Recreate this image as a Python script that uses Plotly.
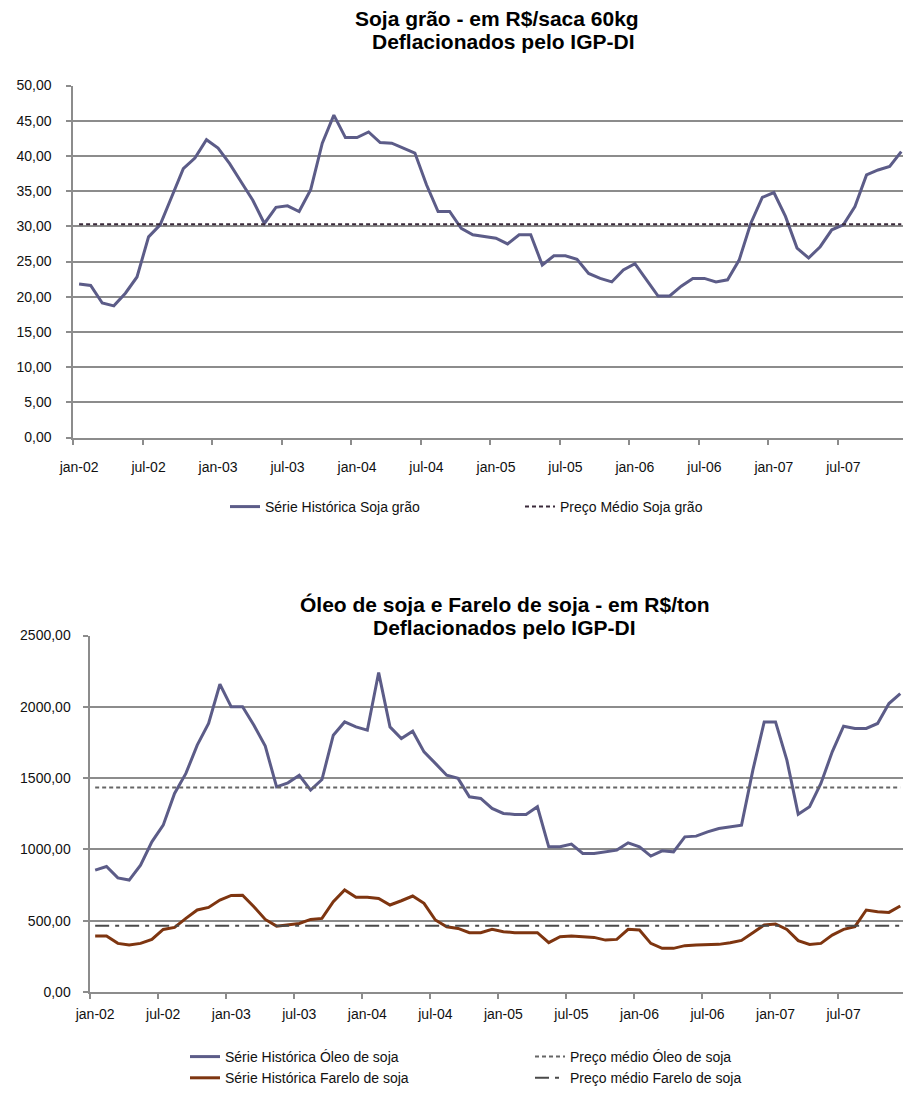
import plotly.graph_objects as go

# Meses da série: jan-02 a dez-07
nomes_mes = ["jan", "fev", "mar", "abr", "mai", "jun",
             "jul", "ago", "set", "out", "nov", "dez"]
meses = [f"{m}-{a:02d}" for a in range(2, 8) for m in nomes_mes]

rotulos_x = ["jan-02", "jul-02", "jan-03", "jul-03", "jan-04", "jul-04",
             "jan-05", "jul-05", "jan-06", "jul-06", "jan-07", "jul-07"]

# Soja grão - R$/saca 60kg (deflacionado IGP-DI)
soja_grao = [21.8, 21.6, 19.1, 18.7, 20.5, 22.8, 28.5, 30.2, 34.2, 38.2, 39.7, 42.3,
             41.1, 38.9, 36.3, 33.7, 30.4, 32.7, 32.9, 32.1, 35.2, 41.8, 45.8, 42.6,
             42.6, 43.4, 41.9, 41.8, 41.1, 40.4, 35.9, 32.1, 32.1, 29.7, 28.8, 28.5,
             28.3, 27.5, 28.8, 28.8, 24.5, 25.8, 25.8, 25.3, 23.3, 22.6, 22.1, 23.8,
             24.7, 22.4, 20.1, 20.1, 21.5, 22.6, 22.6, 22.1, 22.4, 25.2, 30.4, 34.1,
             34.8, 31.4, 26.9, 25.5, 27.1, 29.5, 30.2, 32.8, 37.3, 38.0, 38.5, 40.6]
preco_medio_soja = 30.3

# Óleo e farelo de soja - R$/ton (deflacionado IGP-DI)
oleo_soja = [855, 880, 800, 785, 890, 1053, 1170, 1392, 1533, 1731, 1883, 2158,
             2000, 2000, 1871, 1724, 1439, 1467, 1520, 1416, 1490, 1801, 1894, 1859,
             1836, 2240, 1859, 1778, 1829, 1684, 1603, 1520, 1498, 1369, 1357, 1287,
             1252, 1245, 1245, 1299, 1018, 1018, 1037, 972, 972, 983, 995, 1046,
             1018, 953, 990, 983, 1088, 1093, 1123, 1147, 1158, 1170, 1556, 1894,
             1894, 1626, 1247, 1299, 1462, 1684, 1864, 1848, 1848, 1883, 2023, 2093]
farelo_soja = [392, 392, 341, 329, 341, 369, 439, 453, 516, 575, 593, 645,
               677, 679, 598, 509, 462, 474, 481, 509, 516, 633, 715, 664,
               664, 656, 610, 640, 673, 622, 505, 458, 446, 416, 416, 439,
               423, 416, 416, 416, 346, 388, 392, 388, 383, 364, 369, 440,
               435, 341, 306, 306, 325, 329, 329, 334, 346, 362, 416, 470,
               477, 439, 360, 334, 341, 399, 439, 458, 575, 563, 558, 603]
preco_medio_oleo = 1434
preco_medio_farelo = 465

x = list(range(len(meses)))
pos_rotulos = [meses.index(r) for r in rotulos_x]

W, H = 903, 1093
FONTE = "Liberation Sans, Arial, sans-serif"
COR_SERIE = "#5c5c88"
COR_FARELO = "#7e3510"
COR_GRADE = "#8c8c8c"


def py(px):
    return 1 - px / H


fig = go.Figure()

# --- gráfico superior ---
fig.add_trace(go.Scatter(x=x, y=soja_grao, mode="lines", name="Série Histórica Soja grão",
                         line=dict(color=COR_SERIE, width=3), text=meses,
                         xaxis="x", yaxis="y", legend="legend"))
fig.add_trace(go.Scatter(x=x, y=[preco_medio_soja] * len(x), mode="lines",
                         name="Preço Médio Soja grão",
                         line=dict(color="#3a2a3a", width=2, dash="4px,3px"),
                         xaxis="x", yaxis="y", legend="legend"))

# --- gráfico inferior ---
fig.add_trace(go.Scatter(x=x, y=oleo_soja, mode="lines", name="Série Histórica Óleo de soja",
                         line=dict(color=COR_SERIE, width=3), text=meses,
                         xaxis="x2", yaxis="y2", legend="legend2"))
fig.add_trace(go.Scatter(x=x, y=[preco_medio_oleo] * len(x), mode="lines",
                         name="Preço médio Óleo de soja",
                         line=dict(color="#666666", width=2, dash="4px,3px"),
                         xaxis="x2", yaxis="y2", legend="legend2"))
fig.add_trace(go.Scatter(x=x, y=farelo_soja, mode="lines", name="Série Histórica Farelo de soja",
                         line=dict(color=COR_FARELO, width=3), text=meses,
                         xaxis="x2", yaxis="y2", legend="legend2"))
fig.add_trace(go.Scatter(x=x, y=[preco_medio_farelo] * len(x), mode="lines",
                         name="Preço médio Farelo de soja",
                         line=dict(color="#4a4a4a", width=2, dash="14px,6px,4px,6px"),
                         xaxis="x2", yaxis="y2", legend="legend2"))

eixo_x = dict(
    tickmode="array", tickvals=pos_rotulos, ticktext=rotulos_x,
    ticks="", showgrid=False, zeroline=False,
    showline=True, linecolor=COR_GRADE, linewidth=2,
    tickfont=dict(family=FONTE, size=14, color="#111111"),
    minor=dict(ticks="outside", tick0=-0.5, dtick=6, ticklen=5,
               tickcolor=COR_GRADE, tickwidth=1.5, showgrid=False),
)
eixo_y = dict(
    showgrid=True, gridcolor=COR_GRADE, gridwidth=2, zeroline=False,
    showline=True, linecolor=COR_GRADE, linewidth=2,
    ticks="outside", ticklen=5, tickcolor=COR_GRADE, tickwidth=1.5,
    tickformat=".2f", tickfont=dict(family=FONTE, size=14, color="#111111"),
)

fig.update_layout(
    width=W, height=H,
    margin=dict(l=0, r=0, t=0, b=0, autoexpand=False),
    paper_bgcolor="white", plot_bgcolor="white",
    separators=",.",
    showlegend=True,
    xaxis=dict(eixo_x, domain=[73.3 / W, 1.0], range=[-0.5, 71.15],
               anchor="y", ticklabelstandoff=16),
    yaxis=dict(eixo_y, domain=[py(437.5), py(85.5)], range=[0, 50], dtick=5,
               anchor="x", ticklabelstandoff=12),
    xaxis2=dict(eixo_x, domain=[89.5 / W, 1.0], range=[-0.5, 71.24],
                anchor="y2", ticklabelstandoff=8),
    yaxis2=dict(eixo_y, domain=[py(992), py(635.5)], range=[0, 2500], dtick=500,
                anchor="x2", ticklabelstandoff=9),
    legend=dict(orientation="h", x=225 / W, xanchor="left", y=py(507), yanchor="middle",
                entrywidth=250, entrywidthmode="pixels",
                font=dict(family=FONTE, size=14, color="#111111"),
                bgcolor="rgba(0,0,0,0)"),
    legend2=dict(orientation="h", x=185 / W, xanchor="left", y=py(1067.5), yanchor="middle",
                 entrywidth=300, entrywidthmode="pixels",
                 font=dict(family=FONTE, size=14, color="#111111"),
                 bgcolor="rgba(0,0,0,0)"),
)

titulos = [
    ("Soja grão - em R$/saca 60kg", 497, 18),
    ("Deflacionados pelo IGP-DI", 503, 41),
    ("Óleo de soja e Farelo de soja - em R$/ton", 505, 604),
    ("Deflacionados pelo IGP-DI", 505, 627),
]
for texto, cx, cy in titulos:
    fig.add_annotation(text=f"<b>{texto}</b>", x=cx / W, y=py(cy), xref="paper", yref="paper",
                       xanchor="center", yanchor="middle", showarrow=False,
                       font=dict(family=FONTE, size=21, color="#000000"))

fig.write_html("out.html")
